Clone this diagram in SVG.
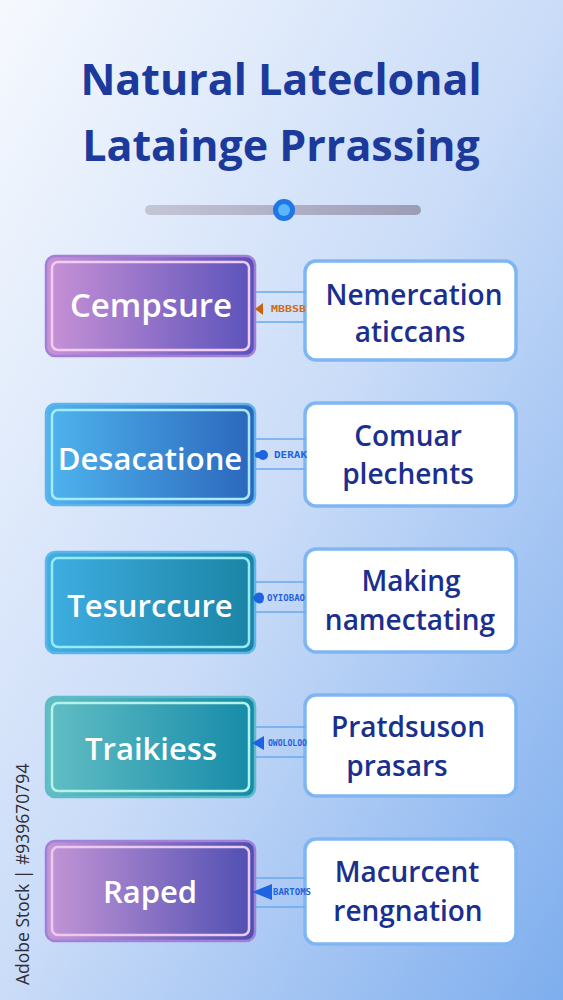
<svg xmlns="http://www.w3.org/2000/svg" width="563" height="1000" viewBox="0 0 563 1000">
<defs>
<linearGradient id="bg" x1="0" y1="0" x2="1" y2="1">
<stop offset="0" stop-color="#f6f9fe"/>
<stop offset="0.5" stop-color="#cadcf8"/>
<stop offset="1" stop-color="#7eaeee"/>
</linearGradient>
<linearGradient id="g1" x1="0" y1="0" x2="1" y2="0"><stop offset="0" stop-color="#c992d6"/><stop offset="1" stop-color="#5a52bb"/></linearGradient>
<linearGradient id="g2" x1="0" y1="0" x2="1" y2="0"><stop offset="0" stop-color="#4fb4ee"/><stop offset="1" stop-color="#2b66bc"/></linearGradient>
<linearGradient id="g3" x1="0" y1="0" x2="1" y2="0"><stop offset="0" stop-color="#3faee2"/><stop offset="1" stop-color="#1a84a4"/></linearGradient>
<linearGradient id="g4" x1="0" y1="0" x2="1" y2="0"><stop offset="0" stop-color="#62bec4"/><stop offset="1" stop-color="#158aa8"/></linearGradient>
<linearGradient id="g5" x1="0" y1="0" x2="1" y2="0"><stop offset="0" stop-color="#c496d6"/><stop offset="1" stop-color="#4e4eb2"/></linearGradient>
<linearGradient id="track" x1="0" y1="0" x2="1" y2="0"><stop offset="0" stop-color="#c4c6d6"/><stop offset="1" stop-color="#9c9cb6"/></linearGradient>
</defs>
<style>
.title{font-family:"Open Sans","Noto Sans",sans-serif;font-weight:700;font-size:43px;fill:#1b3a9c;text-anchor:middle}
.lt{font-family:"Open Sans","Noto Sans",sans-serif;font-weight:600;font-size:31px;fill:#ffffff;text-anchor:middle}
.rt{font-family:"Open Sans","Noto Sans",sans-serif;font-weight:600;font-size:28px;fill:#1a2f8e;text-anchor:middle}
.rbox{fill:#ffffff;stroke:#7fb6f2;stroke-width:3.5}
.inner{fill:none;stroke-width:2.5}
.line{stroke:#6aa8ee;stroke-width:1.5;fill:none}
.cl{font-family:"DejaVu Sans Mono","Liberation Mono",monospace;font-weight:700;font-size:9px;fill:#1e63e0}
.wm{font-family:"Open Sans","Noto Sans",sans-serif;font-size:17.5px;fill:#2e2e36}
</style>
<rect x="0" y="0" width="563" height="1000" fill="url(#bg)"/>

<g id="title">
<text class="title" x="281" y="95">Natural Lateclonal</text>
<text class="title" x="281" y="161">Latainge Prrassing</text>
</g>

<g id="slider">
<rect x="145" y="205" width="276" height="10" rx="5" fill="url(#track)"/>
<circle cx="284" cy="210" r="11" fill="#1f76e6"/>
<circle cx="284" cy="210" r="6" fill="#5ab8fa"/>
</g>

<g id="left1">
<rect x="46" y="256" width="209" height="100" rx="9" fill="url(#g1)" stroke="#a37ed8" stroke-width="2.5"/>
<rect class="inner" x="52" y="262" width="197" height="88" rx="6" stroke="#f2cdf2"/>
<text class="lt" x="151" y="317" style="font-size:33px">Cempsure</text>
</g>
<g id="left2">
<rect x="46" y="404" width="209" height="101" rx="9" fill="url(#g2)" stroke="#5cb4ee" stroke-width="2.5"/>
<rect class="inner" x="52" y="410" width="197" height="89" rx="6" stroke="#a6ecf8"/>
<text class="lt" x="150" y="470">Desacatione</text>
</g>
<g id="left3">
<rect x="46" y="552" width="209" height="101" rx="9" fill="url(#g3)" stroke="#5cb6ec" stroke-width="2.5"/>
<rect class="inner" x="52" y="558" width="197" height="89" rx="6" stroke="#98eaf2"/>
<text class="lt" x="150" y="617">Tesurccure</text>
</g>
<g id="left4">
<rect x="46" y="697" width="209" height="100" rx="9" fill="url(#g4)" stroke="#5cbcc8" stroke-width="2.5"/>
<rect class="inner" x="52" y="703" width="197" height="88" rx="6" stroke="#b4f2ea"/>
<text class="lt" x="151" y="760">Traikiess</text>
</g>
<g id="left5">
<rect x="46" y="841" width="209" height="100" rx="9" fill="url(#g5)" stroke="#a080d8" stroke-width="2.5"/>
<rect class="inner" x="52" y="847" width="197" height="88" rx="6" stroke="#eccaf0"/>
<text class="lt" x="150" y="903">Raped</text>
</g>

<g id="right1">
<rect class="rbox" x="305" y="261" width="211" height="99" rx="11"/>
<text class="rt" x="414" y="305">Nemercation</text>
<text class="rt" x="410" y="342">aticcans</text>
</g>
<g id="right2">
<rect class="rbox" x="305" y="403" width="211" height="103" rx="11"/>
<text class="rt" x="408" y="446">Comuar</text>
<text class="rt" x="408" y="484">plechents</text>
</g>
<g id="right3">
<rect class="rbox" x="305" y="549" width="211" height="103" rx="11"/>
<text class="rt" x="411" y="591">Making</text>
<text class="rt" x="410" y="630">namectating</text>
</g>
<g id="right4">
<rect class="rbox" x="305" y="695" width="211" height="101" rx="11"/>
<text class="rt" x="408" y="737">Pratdsuson</text>
<text class="rt" x="397" y="776">prasars</text>
</g>
<g id="right5">
<rect class="rbox" x="305" y="839" width="211" height="105" rx="11"/>
<text class="rt" x="407" y="882">Macurcent</text>
<text class="rt" x="408" y="921">rengnation</text>
</g>

<g id="connectors">
<line class="line" x1="256" y1="292" x2="305" y2="292"/>
<line class="line" x1="256" y1="322" x2="305" y2="322"/>
<path d="M255 309 L263 303 L263 315 Z" fill="#c8620e"/>
<text class="cl" x="271" y="312" textLength="35" lengthAdjust="spacingAndGlyphs" style="fill:#d06c12">MBBSB</text>

<line class="line" x1="256" y1="439" x2="305" y2="439"/>
<line class="line" x1="256" y1="469" x2="305" y2="469"/>
<circle cx="258" cy="455" r="3" fill="#1e63e0"/>
<circle cx="263" cy="455" r="5" fill="#1e63e0"/>
<text class="cl" x="274" y="458" textLength="33" lengthAdjust="spacingAndGlyphs">DERAK</text>

<line class="line" x1="256" y1="582" x2="305" y2="582"/>
<line class="line" x1="256" y1="612" x2="305" y2="612"/>
<path d="M253 598 Q256 591 262 593 Q266 598 262 603 Q256 605 253 598 Z" fill="#1e63e0"/>
<text class="cl" x="267" y="601" textLength="38" lengthAdjust="spacingAndGlyphs">OYIOBAO</text>

<line class="line" x1="256" y1="727" x2="305" y2="727"/>
<line class="line" x1="256" y1="757" x2="305" y2="757"/>
<path d="M252 743 L264 736 L264 750 Z" fill="#1e63e0"/>
<text class="cl" x="268" y="746" textLength="39" lengthAdjust="spacingAndGlyphs">OWOLOLOO</text>

<line class="line" x1="256" y1="878" x2="305" y2="878"/>
<line class="line" x1="256" y1="907" x2="305" y2="907"/>
<path d="M252 892 L272 884 L272 900 Z" fill="#1e63e0"/>
<text class="cl" x="273" y="895" textLength="38" lengthAdjust="spacingAndGlyphs">BARTOMS</text>
</g>

<text class="wm" x="0" y="0" transform="translate(29,985) rotate(-90)">Adobe Stock | #939670794</text>
</svg>
